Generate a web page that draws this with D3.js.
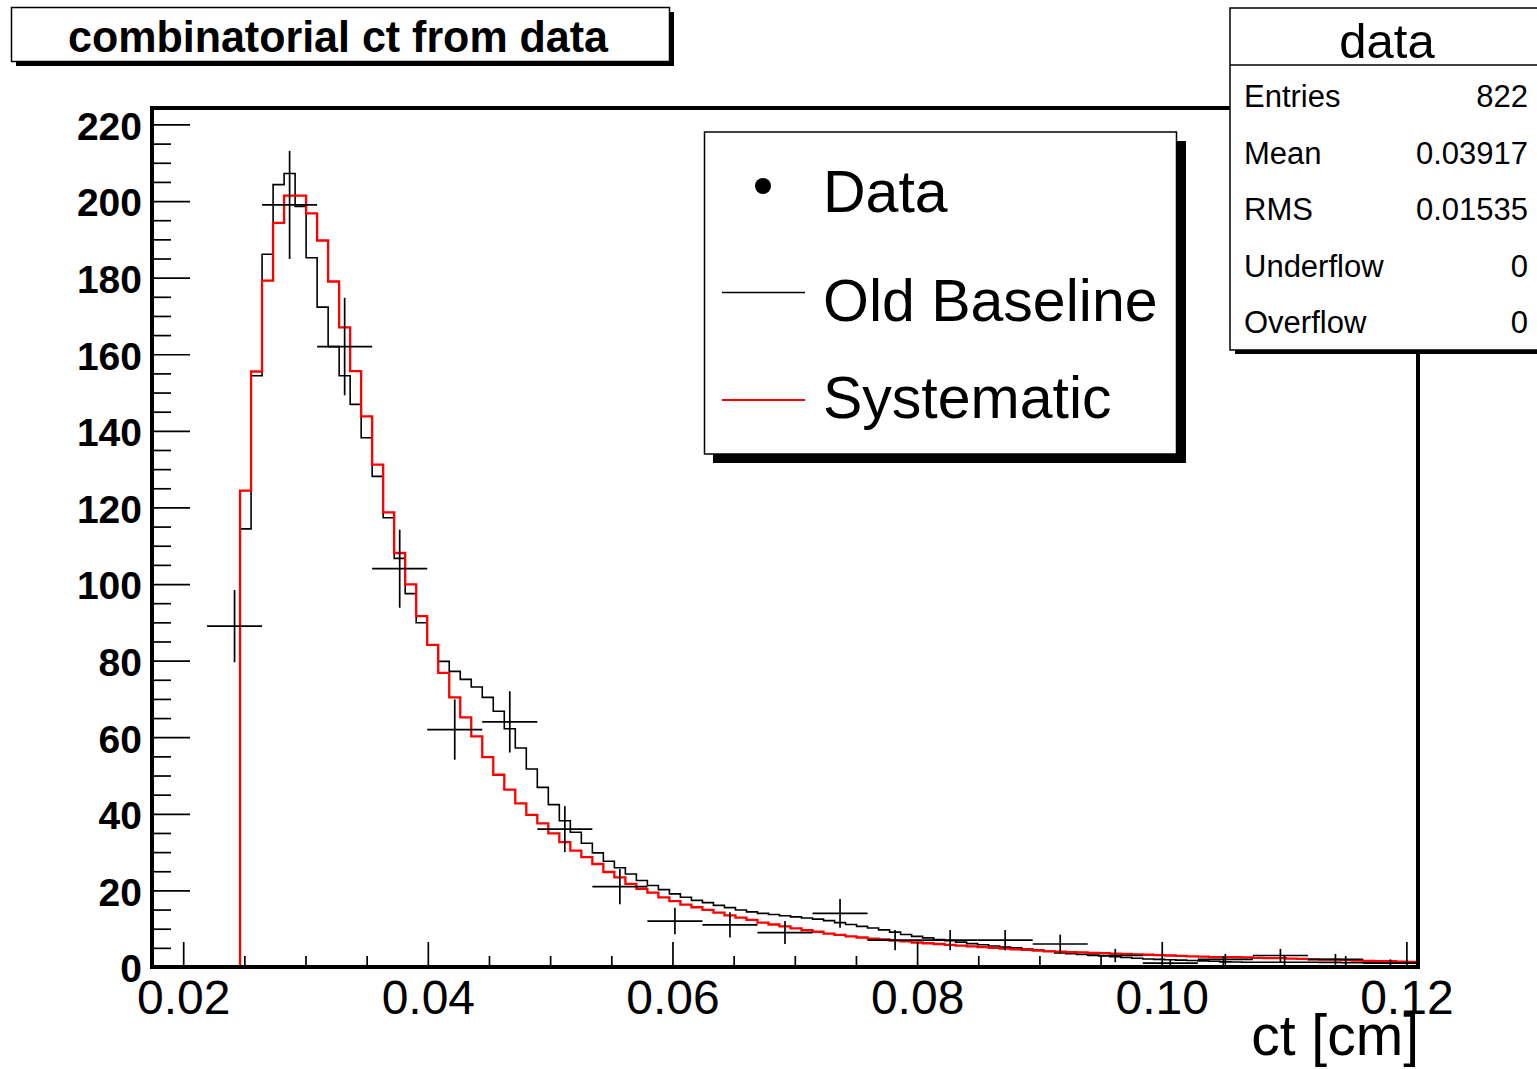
<!DOCTYPE html>
<html>
<head>
<meta charset="utf-8">
<script src="https://cdn.jsdelivr.net/npm/d3@7"></script>
<style>
body { margin: 0; background: #fff; }
text { font-family: "Liberation Sans", Arial, Helvetica, sans-serif; }
</style>
</head>
<body>
<svg id="chart"></svg>
<script>
/**
 * Global variables
 */
var w = 1537;
var h = 1069;
var margin = {top: 108, right: 119, bottom: 102, left: 152};

// histogram binning (ct in cm)
var xLow = 0.01745;
var binWidth = 0.0009;
var rebin = 5;

// fine-binned templates, 115 bins
var oldBaseline = [
    0, 0, 0, 0, 0, 0, 0, 0, 114.4, 154.4,
    186.1, 204.3, 207.2, 198.6, 185.2, 172.3, 162.0, 154.4, 146.9, 138.2,
    128.1, 117.3, 106.7, 97.5, 89.9, 84.1, 79.8, 77.2, 75.1, 73.1,
    70.4, 66.8, 62.2, 57.2, 51.7, 46.9, 42.4, 38.2, 35.2, 32.3,
    29.8, 27.6, 25.9, 24.3, 22.6, 21.3, 20.2, 19.1, 18.2, 17.4,
    16.8, 16.1, 15.5, 14.9, 14.4, 14.0, 13.7, 13.4, 13.1, 12.8,
    12.5, 12.1, 11.6, 11.1, 10.6, 10.2, 9.7, 9.1, 8.5, 8.0,
    7.6, 7.2, 6.9, 6.5, 6.1, 5.8, 5.5, 5.2, 5.0, 4.7,
    4.4, 4.1, 3.7, 3.5, 3.3, 3.1, 2.9, 2.7, 2.5, 2.3,
    2.1, 2.0, 1.9, 1.8, 1.7, 1.6, 1.5, 1.35, 1.3, 1.25,
    1.25, 1.25, 1.25, 1.25, 1.25, 1.25, 1.2, 1.2, 1.1, 1.1,
    1.1, 1.05, 1.05, 1.0, 1.0
];

var systematic = [
    0, 0, 0, 0, 0, 0, 0, 0, 124.4, 155.5,
    179.2, 194.3, 201.4, 201.4, 196.8, 189.7, 179.0, 167.0, 155.6, 143.8,
    131.2, 118.7, 108.1, 99.9, 91.6, 84.1, 76.8, 70.4, 65.2, 60.2,
    54.8, 50.2, 46.3, 42.7, 39.7, 37.5, 34.9, 32.6, 30.4, 28.7,
    26.9, 24.8, 23.4, 21.7, 20.4, 19.4, 18.2, 17.2, 16.3, 15.6,
    14.9, 14.2, 13.5, 12.9, 12.3, 11.6, 11.1, 10.6, 10.1, 9.6,
    9.2, 8.7, 8.4, 8.0, 7.7, 7.4, 7.2, 6.9, 6.7, 6.4,
    6.2, 6.0, 5.8, 5.6, 5.4, 5.2, 5.0, 4.8, 4.6, 4.5,
    4.3, 4.1, 4.0, 3.9, 3.8, 3.7, 3.6, 3.5, 3.4, 3.3,
    3.2, 3.1, 3.0, 2.9, 2.8, 2.7, 2.6, 2.6, 2.6, 2.5,
    2.4, 2.3, 2.3, 2.2, 2.1, 2.0, 1.9, 1.9, 1.8, 1.7,
    1.6, 1.5, 1.5, 1.4, 1.3
];

// data, rebinned by 5 -> 23 bins
var dataCounts = [0, 89, 199, 162, 104, 62, 64, 36, 21, 12, 11, 9, 14, 7, 7, 7, 6, 3, 1, 2, 3, 2, 1];

var xMajorTicks = [0.02, 0.04, 0.06, 0.08, 0.10, 0.12];
var yMajorTicks = [0, 20, 40, 60, 80, 100, 120, 140, 160, 180, 200, 220];
var yMax = 224.3;

var titleText = "combinatorial ct from data";
var xTitle = "ct [cm]";
var legendLabels = ["Data", "Old Baseline", "Systematic"];
var statsTitle = "data";
var statsLabels = ["Entries", "Mean", "RMS", "Underflow", "Overflow"];
var statsValues = ["822", "0.03917", "0.01535", "0", "0"];

var svg = d3.select("#chart").attr("width", w).attr("height", h);
var width = w - margin.left - margin.right;
var height = h - margin.top - margin.bottom;
var xHigh = xLow + oldBaseline.length * binWidth;

var x = d3.scaleLinear().domain([xLow, xHigh]).range([0, width]);
var y = d3.scaleLinear().domain([0, yMax]).range([height, 0]);

var g = svg.append("g")
    .attr("transform", "translate(" + margin.left + "," + margin.top + ")");

// step outline of a histogram, ROOT style
var stepPath = function(values) {
    let pts = [[x(xLow), y(0)]];
    values.forEach(function(v, i) {
        pts.push([x(xLow + i * binWidth), y(v)]);
        pts.push([x(xLow + (i + 1) * binWidth), y(v)]);
    });
    pts.push([x(xHigh), y(0)]);
    return d3.line()(pts);
};

g.append("path")
    .attr("d", stepPath(oldBaseline))
    .attr("fill", "none")
    .attr("stroke", "#000")
    .attr("stroke-width", 1.6);

g.append("path")
    .attr("d", stepPath(systematic))
    .attr("fill", "none")
    .attr("stroke", "#ff0000")
    .attr("stroke-width", 2.3);

// data points with error bars
var dataBins = dataCounts.map(function(c, i) {
    return {
        lo: xLow + i * rebin * binWidth,
        hi: xLow + (i + 1) * rebin * binWidth,
        n: c
    };
}).filter(function(d) { return d.n > 0; });

var pts = g.append("g").attr("stroke", "#000").attr("stroke-width", 1.7);
pts.selectAll("line.h").data(dataBins).enter().append("line")
    .attr("class", "h")
    .attr("x1", function(d) { return x(d.lo); })
    .attr("x2", function(d) { return x(d.hi); })
    .attr("y1", function(d) { return y(d.n); })
    .attr("y2", function(d) { return y(d.n); });
pts.selectAll("line.v").data(dataBins).enter().append("line")
    .attr("class", "v")
    .attr("x1", function(d) { return x((d.lo + d.hi) / 2); })
    .attr("x2", function(d) { return x((d.lo + d.hi) / 2); })
    .attr("y1", function(d) { return y(d.n - Math.sqrt(d.n)); })
    .attr("y2", function(d) { return y(d.n + Math.sqrt(d.n)); });

// Axes (ticks inside the frame)
var xMinor = d3.range(0.025, 0.1201, 0.005).filter(function(t) {
    return Math.abs(Math.round(t / 0.02) * 0.02 - t) > 1e-6;
});
var yMinor = d3.range(5, yMax, 5).filter(function(t) { return t % 20 !== 0; });

var styleAxis = function(sel) {
    sel.select(".domain").remove();
    sel.selectAll("line").attr("stroke", "#000").attr("stroke-width", 1.7);
};

g.append("g")
    .attr("transform", "translate(0," + height + ")")
    .call(d3.axisBottom(x).tickValues(xMinor).tickSize(-11).tickFormat(""))
    .call(styleAxis);

g.append("g")
    .attr("transform", "translate(0," + height + ")")
    .call(d3.axisBottom(x).tickValues(xMajorTicks).tickSize(-25).tickPadding(13)
        .tickFormat(d3.format(".2f")))
    .call(styleAxis)
    .attr("font-size", 48)
    .attr("font-family", null);

g.append("g")
    .call(d3.axisLeft(y).tickValues(yMinor).tickSize(-19).tickFormat(""))
    .call(styleAxis);

g.append("g")
    .call(d3.axisLeft(y).tickValues(yMajorTicks).tickSize(-38).tickPadding(10))
    .call(styleAxis)
    .attr("font-size", 39)
    .attr("font-weight", "bold")
    .attr("font-family", null)
    .selectAll("text").attr("dy", "0.38em");

// frame
g.append("rect")
    .attr("width", width).attr("height", height)
    .attr("fill", "none").attr("stroke", "#000").attr("stroke-width", 4);

// axis title
svg.append("text")
    .attr("x", margin.left + width + 1)
    .attr("y", 1055)
    .attr("text-anchor", "end")
    .attr("font-size", 57)
    .text(xTitle);

// Title box with shadow
svg.append("rect").attr("x", 16).attr("y", 12).attr("width", 658).attr("height", 54).attr("fill", "#000");
svg.append("rect").attr("x", 11.5).attr("y", 7.5).attr("width", 658).attr("height", 54)
    .attr("fill", "#fff").attr("stroke", "#000").attr("stroke-width", 1.5);
svg.append("text")
    .attr("x", 338).attr("y", 52)
    .attr("text-anchor", "middle")
    .attr("font-size", 44)
    .attr("font-weight", "bold")
    .attr("textLength", 540)
    .attr("lengthAdjust", "spacingAndGlyphs")
    .text(titleText);

// Legend
var leg = svg.append("g");
leg.append("rect").attr("x", 713).attr("y", 141).attr("width", 473).attr("height", 322).attr("fill", "#000");
leg.append("rect").attr("x", 704.5).attr("y", 132).attr("width", 472).attr("height", 322)
    .attr("fill", "#fff").attr("stroke", "#000").attr("stroke-width", 1.5);
var legBase = [212, 321, 418];
leg.selectAll("text").data(legendLabels).enter().append("text")
    .attr("x", 823)
    .attr("y", function(d, i) { return legBase[i]; })
    .attr("font-size", 59)
    .text(function(d) { return d; });
leg.append("circle").attr("cx", 763).attr("cy", 186).attr("r", 8).attr("fill", "#000");
leg.append("line").attr("x1", 722).attr("x2", 805).attr("y1", 292.5).attr("y2", 292.5)
    .attr("stroke", "#000").attr("stroke-width", 1.5);
leg.append("line").attr("x1", 722).attr("x2", 805).attr("y1", 400).attr("y2", 400)
    .attr("stroke", "#ff0000").attr("stroke-width", 2);

// Stats box
var st = svg.append("g");
st.append("rect").attr("x", 1235).attr("y", 12).attr("width", 320).attr("height", 342).attr("fill", "#000");
st.append("rect").attr("x", 1230).attr("y", 8).attr("width", 320).attr("height", 342)
    .attr("fill", "#fff").attr("stroke", "#000").attr("stroke-width", 1.5);
st.append("line").attr("x1", 1230).attr("x2", 1537).attr("y1", 65).attr("y2", 65)
    .attr("stroke", "#000").attr("stroke-width", 1.5);
st.append("text").attr("x", 1387).attr("y", 58).attr("text-anchor", "middle")
    .attr("font-size", 49).text(statsTitle);
var rowY = [107, 163.5, 220, 276.5, 333];
st.selectAll("text.lab").data(statsLabels).enter().append("text")
    .attr("class", "lab")
    .attr("x", 1244)
    .attr("y", function(d, i) { return rowY[i]; })
    .attr("font-size", 31)
    .text(function(d) { return d; });
st.selectAll("text.val").data(statsValues).enter().append("text")
    .attr("class", "val")
    .attr("x", 1528)
    .attr("y", function(d, i) { return rowY[i]; })
    .attr("text-anchor", "end")
    .attr("font-size", 31)
    .text(function(d) { return d; });
</script>
</body>
</html>
